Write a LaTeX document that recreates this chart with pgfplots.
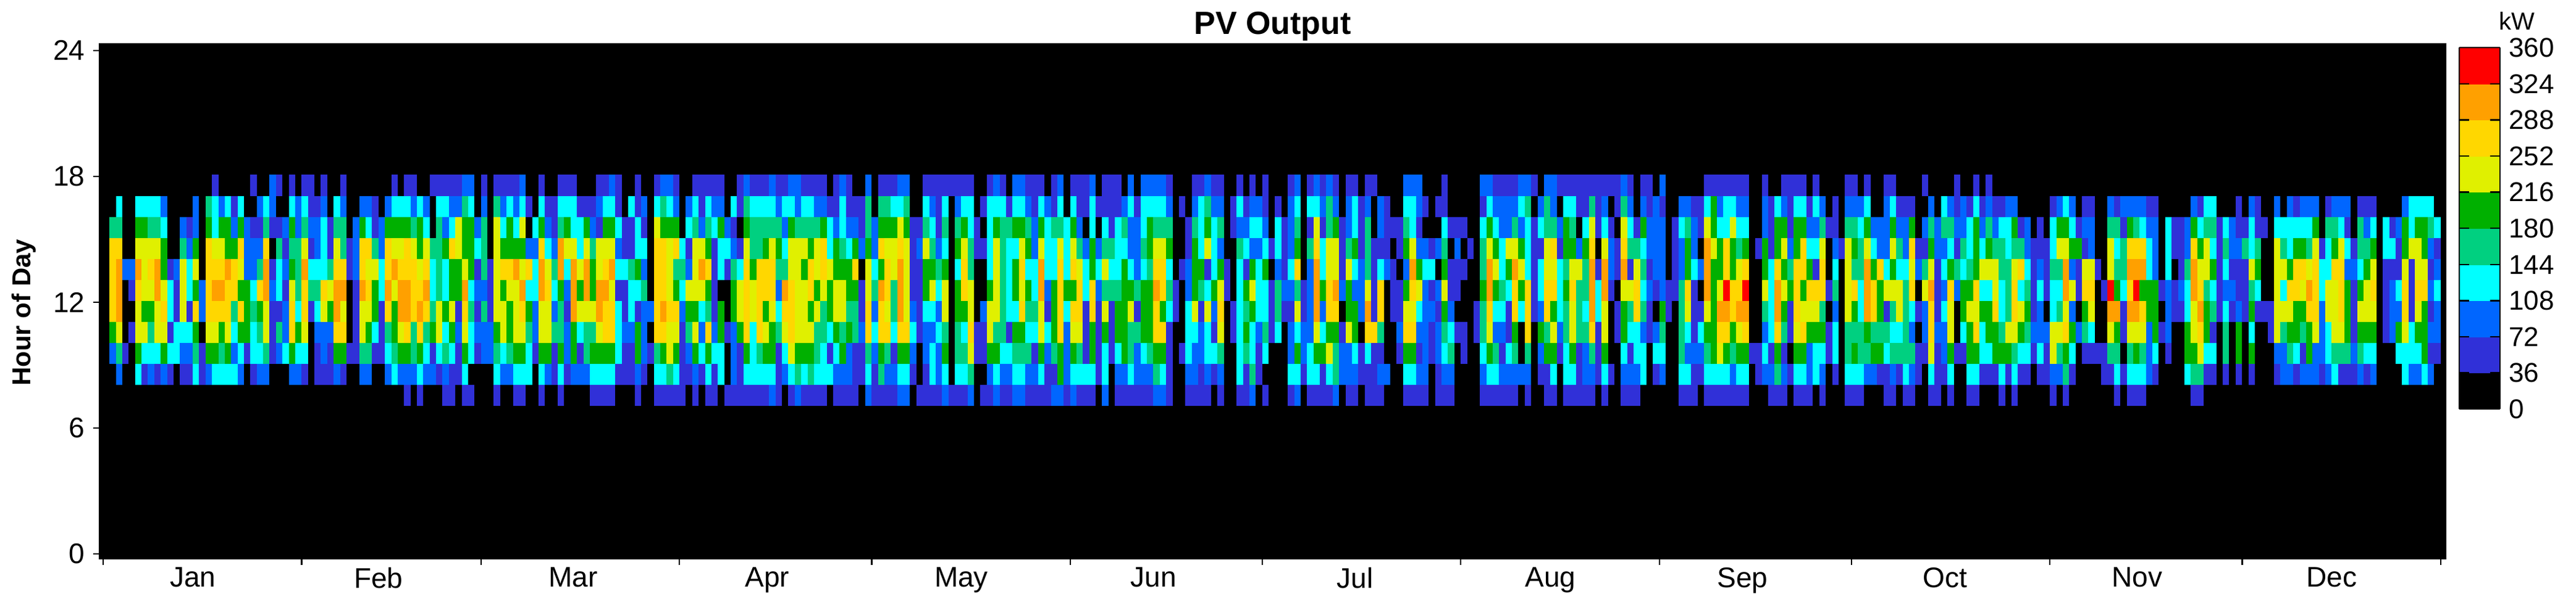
\documentclass[border=0pt]{standalone}
\usepackage{fontspec}
\setmainfont{Liberation Sans}
\usepackage{pgfplots}
\usepackage{pgfplotstable}
\pgfplotsset{compat=1.18}

% one row per day of the year, one column per hour of day
% values are colour band numbers: band n is 36*n to 36*(n+1) kW
\pgfplotstableread{
h7 h8 h9 h10 h11 h12 h13 h14 h15 h16 h17
0 0 0 0 0 0 0 0 0 0 0
0 0 2 5 7 7 7 7 4 0 0
0 2 4 6 8 8 8 7 4 3 0
0 0 1 0 0 0 2 0 0 0 0
0 0 0 1 0 1 2 0 0 0 0
0 3 5 6 6 7 8 6 5 3 0
0 1 3 6 5 6 6 6 5 3 0
0 2 3 4 5 6 7 6 4 3 0
0 1 3 6 6 8 8 6 4 3 0
0 2 5 6 7 6 5 5 3 2 0
0 1 3 1 3 3 1 0 0 0 0
0 0 3 3 1 1 2 0 0 0 0
0 1 2 3 6 6 6 4 2 0 0
0 1 2 3 1 3 3 2 1 0 0
0 3 4 5 7 5 6 5 2 2 0
0 1 1 0 2 2 0 0 0 0 0
0 2 5 6 7 7 7 7 5 4 0
0 3 5 6 7 8 7 6 3 3 1
0 3 4 5 7 8 7 6 5 2 0
0 3 5 6 7 7 8 5 5 3 0
0 3 2 3 4 7 7 5 2 1 0
0 2 3 5 7 5 6 7 5 3 0
0 0 1 5 5 5 2 2 2 0 0
0 1 3 3 4 3 2 2 1 0 1
0 2 3 4 5 7 4 2 1 2 0
0 2 4 6 6 8 8 7 4 3 0
0 0 1 1 1 2 1 0 1 2 2
0 0 2 4 1 3 3 4 1 0 1
0 0 3 2 2 1 2 1 2 0 0
0 2 5 7 7 6 5 4 5 3 1
0 2 3 5 3 4 4 4 2 2 0
0 1 3 6 7 7 8 6 4 3 1
0 0 0 0 1 4 3 1 2 1 1
0 1 1 2 3 4 3 2 2 1 0
0 1 2 2 6 7 3 3 3 2 1
0 1 1 2 5 6 4 1 1 0 0
0 2 5 7 8 8 7 6 4 3 0
0 1 5 7 6 8 7 4 4 2 1
0 0 1 0 0 0 1 1 0 0 0
0 0 1 1 1 1 2 2 2 0 0
0 2 4 6 6 8 7 7 5 2 0
0 2 4 5 6 7 6 7 3 2 0
0 0 1 3 5 5 6 4 1 1 0
0 0 1 1 1 3 3 2 2 0 0
0 2 3 4 7 8 7 7 5 2 0
0 3 4 5 5 6 8 6 5 3 1
0 2 5 6 8 8 7 6 5 3 0
1 2 5 7 8 8 7 7 5 3 1
0 2 4 4 7 7 7 6 4 2 1
1 3 5 7 8 7 6 5 5 3 0
0 2 3 4 7 8 7 6 3 2 0
0 2 1 5 4 3 3 4 0 0 1
0 1 3 6 6 4 4 4 4 3 1
1 2 4 3 5 3 3 5 2 3 1
1 1 3 5 6 5 5 7 3 2 1
0 1 1 2 1 5 5 6 6 2 1
1 3 5 6 7 8 6 5 5 4 2
1 0 3 3 4 3 5 5 5 3 2
0 0 1 2 1 2 1 3 2 0 0
0 0 2 2 4 2 4 4 4 2 1
0 0 2 2 1 1 1 0 0 0 0
1 3 4 5 6 6 6 6 6 4 1
0 2 3 6 6 5 7 5 3 2 1
0 2 4 5 5 6 7 5 5 3 1
1 3 5 6 6 6 8 5 3 2 1
1 3 5 6 7 8 6 5 6 3 2
0 3 3 4 5 3 7 2 0 1 0
0 0 1 2 2 3 3 2 3 0 0
1 3 5 6 6 8 8 7 5 3 1
0 2 5 6 6 7 6 3 2 1 0
0 1 1 4 2 3 4 2 1 1 0
1 3 5 4 4 5 8 8 4 3 1
0 1 2 2 1 2 3 6 5 3 1
0 2 5 5 8 8 8 6 3 3 1
0 2 1 3 6 5 6 3 3 1 0
0 2 4 4 6 8 8 6 5 1 0
1 3 5 4 6 5 5 4 2 1 0
1 3 5 6 8 8 6 6 1 2 1
1 3 5 7 7 8 7 6 5 3 1
1 3 5 7 7 6 8 6 5 3 2
0 1 3 3 3 1 3 2 3 1 1
0 1 1 2 1 1 3 1 1 0 0
0 1 1 2 3 3 4 1 1 3 0
1 2 5 5 1 3 5 3 3 1 1
0 1 2 2 2 4 2 3 1 2 0
0 0 1 0 2 0 0 0 0 0 0
1 3 4 7 7 7 7 7 6 3 1
1 3 5 7 8 7 7 7 5 4 2
1 4 6 6 7 6 6 6 5 3 2
1 3 5 6 7 5 4 7 5 2 1
1 1 1 1 2 3 4 3 0 0 0
0 1 2 4 5 6 2 1 3 2 0
1 2 5 6 5 6 6 6 4 3 1
0 1 3 2 3 6 8 6 2 1 1
1 3 5 7 4 5 7 5 4 3 1
1 1 3 2 1 1 1 1 3 2 1
0 3 3 5 5 0 3 3 5 2 1
1 0 0 1 0 0 1 3 2 0 0
1 2 2 2 5 5 4 2 1 3 0
1 1 1 5 6 6 3 1 0 1 1
1 3 5 7 7 7 7 6 5 4 2
1 3 3 3 6 6 5 4 4 3 1
1 3 4 7 7 7 7 4 4 3 1
1 3 5 6 5 7 7 5 4 3 1
2 3 5 5 6 7 7 6 4 3 2
1 1 1 4 3 2 4 5 4 2 1
0 2 3 6 7 8 4 3 2 3 1
1 3 6 7 7 7 6 6 5 3 2
2 4 5 6 6 6 6 6 4 2 2
1 3 5 6 6 6 5 6 4 3 1
1 4 5 6 5 7 7 5 4 3 1
1 3 4 4 6 5 6 6 4 2 1
1 3 3 4 4 6 7 7 5 2 1
0 3 1 3 5 5 6 3 3 1 0
1 2 3 5 6 6 5 5 2 1 1
1 2 5 4 6 6 5 4 3 3 2
1 2 2 5 4 5 5 3 2 1 1
1 1 1 4 4 5 7 5 2 1 0
0 1 1 2 1 1 0 2 1 1 0
2 3 4 7 7 6 6 5 4 4 2
1 1 2 3 2 4 3 2 2 0 0
1 4 5 7 7 8 5 7 5 4 1
1 2 4 7 6 7 7 6 5 4 1
1 2 1 3 4 4 6 6 5 3 1
2 3 5 7 8 8 8 7 6 3 2
2 3 5 7 6 6 6 6 5 4 2
0 1 2 3 2 1 1 1 1 0 0
1 0 0 1 1 1 1 2 1 0 0
1 1 2 2 3 5 5 6 4 3 1
1 3 3 2 3 6 5 4 3 2 1
1 2 2 3 2 3 4 2 1 1 1
2 3 5 4 6 6 5 3 4 3 1
1 0 0 0 0 0 0 0 0 0 1
1 3 4 4 5 5 3 5 4 2 1
1 3 4 3 5 7 7 6 5 3 1
2 4 6 7 6 6 4 4 3 3 1
0 0 1 1 0 0 0 1 1 0 0
1 0 1 1 2 0 0 1 0 1 0
1 2 5 6 6 5 3 3 3 3 1
2 3 5 4 6 6 6 6 5 3 2
1 2 3 4 4 4 4 4 4 3 1
1 2 3 1 3 3 3 3 4 1 0
2 3 4 5 3 5 5 3 5 3 2
2 3 4 5 7 6 7 6 5 3 2
1 2 4 3 4 5 3 5 4 2 1
1 2 1 3 4 3 3 2 2 1 1
1 3 5 6 6 8 8 6 5 3 1
1 1 2 3 1 2 3 3 3 2 0
2 1 4 5 5 5 3 3 4 1 1
2 5 5 7 7 7 7 6 4 3 2
1 2 2 2 3 5 3 3 3 0 0
2 3 5 6 7 5 7 6 5 3 1
1 3 4 6 7 7 6 4 2 1 1
1 3 1 1 1 3 3 2 0 1 1
1 3 5 5 7 7 5 5 3 3 2
0 1 1 1 1 2 3 2 0 1 0
2 3 3 5 6 4 6 4 3 1 1
0 0 1 1 1 4 3 4 1 1 1
1 2 3 5 5 4 3 3 3 1 1
1 2 5 5 5 5 5 3 4 2 0
1 3 4 4 6 5 3 2 2 3 2
1 2 2 4 1 4 2 2 2 1 0
1 2 3 5 5 5 3 4 3 3 2
1 2 4 5 5 5 4 5 5 3 2
2 4 5 7 7 8 7 6 4 3 2
2 3 5 7 5 7 7 6 4 3 2
1 1 1 1 3 4 3 5 4 2 1
0 0 0 0 1 1 0 0 0 0 0
0 0 1 0 0 0 1 0 0 1 0
1 2 3 3 3 2 2 1 1 0 0
1 2 2 3 6 5 5 5 4 2 1
1 1 2 2 1 4 5 3 3 3 1
1 2 3 3 6 3 1 6 5 4 2
0 1 3 1 2 5 3 3 3 2 1
1 2 4 6 7 6 5 2 4 2 1
0 0 0 0 0 1 1 0 0 0 0
0 0 0 1 1 0 0 0 1 1 0
1 3 3 3 3 3 3 4 2 3 1
1 1 4 5 4 5 1 3 2 1 0
2 4 3 3 5 6 5 2 3 2 1
0 1 1 2 3 3 3 2 3 2 0
1 0 3 4 3 3 5 3 2 1 1
0 0 0 1 1 1 0 1 0 0 0
0 0 0 3 4 4 2 3 3 1 0
0 0 0 0 1 2 1 1 1 0 0
1 3 2 2 1 2 3 2 2 2 1
2 3 5 3 6 4 7 5 4 3 2
0 1 2 2 1 1 0 0 0 0 0
1 3 3 2 2 2 2 4 1 3 1
1 3 5 6 8 8 8 7 6 3 2
1 1 5 3 2 5 3 3 1 2 1
1 3 6 5 7 7 6 6 4 4 2
2 4 4 5 7 8 6 6 5 2 1
0 2 2 1 0 2 1 1 1 0 0
1 2 2 6 5 5 6 4 2 2 1
1 2 3 5 5 2 3 5 3 3 1
0 1 1 0 2 2 2 1 1 1 0
1 1 3 7 8 6 4 4 4 2 1
1 1 1 7 1 1 1 1 0 0 1
1 2 1 4 7 7 3 1 2 2 0
0 2 0 0 0 0 2 1 1 1 0
0 0 0 0 1 1 1 0 1 0 0
0 0 1 2 1 1 0 1 1 0 0
1 3 5 7 6 5 2 5 4 3 2
1 3 5 7 6 7 8 6 3 3 2
1 2 1 2 3 6 5 2 1 2 2
1 2 2 2 2 2 3 2 0 1 0
0 0 1 1 2 1 3 1 0 0 0
1 1 2 2 1 2 0 2 0 1 0
1 2 3 4 5 6 5 4 3 1 1
1 2 4 3 2 1 1 0 1 0 0
0 0 0 1 0 1 1 2 1 0 0
0 0 1 1 0 0 1 0 1 0 0
0 0 0 0 0 0 0 1 0 0 0
0 0 0 1 1 0 0 0 0 0 0
1 2 3 4 4 5 4 4 3 1 2
1 3 5 6 7 8 8 6 5 3 2
1 3 4 2 3 5 6 5 3 2 1
1 2 1 2 3 4 3 3 2 2 1
1 2 3 1 1 3 5 6 2 2 1
1 2 4 5 7 7 8 6 4 2 1
0 2 0 0 3 5 6 5 2 3 2
1 2 4 7 7 7 3 3 3 4 2
0 0 0 0 1 1 1 1 1 0 1
0 1 2 5 2 3 3 1 3 2 0
1 1 5 4 7 7 6 6 4 4 2
1 3 5 6 5 7 6 7 4 2 2
0 0 1 2 3 3 3 1 2 0 1
1 3 3 4 4 5 4 5 5 3 1
1 3 5 6 6 7 6 5 4 3 1
1 1 1 4 4 4 6 2 0 1 1
1 2 2 4 3 4 4 5 3 1 1
1 2 4 7 8 8 8 7 6 4 1
0 1 1 1 3 3 1 0 1 1 1
1 3 5 6 6 8 8 6 3 2 1
0 1 0 0 0 1 2 2 1 0 1
0 0 0 1 1 0 1 1 0 1 1
1 2 3 5 5 6 8 7 6 4 2
1 2 1 3 4 6 1 4 3 2 1
1 2 3 3 7 7 6 4 1 0 0
0 3 3 2 4 3 4 3 5 2 1
0 0 0 1 1 2 1 2 2 1 1
0 1 3 2 0 1 2 2 2 2 0
0 2 3 4 5 2 2 2 2 1 2
0 0 0 0 1 1 0 0 0 0 0
0 0 0 0 0 1 1 1 1 0 0
1 3 4 4 4 4 2 2 3 2 0
1 3 2 3 6 7 5 5 4 2 0
1 1 2 1 1 1 3 2 2 1 0
0 1 2 3 1 0 2 0 1 1 0
1 3 4 5 6 8 8 8 6 3 1
1 3 5 5 5 5 5 6 5 5 1
1 3 6 7 8 6 5 5 3 2 1
1 3 5 7 8 9 7 7 3 3 1
1 2 4 5 7 7 5 5 6 3 1
1 3 5 6 8 7 6 4 3 2 1
1 3 5 7 8 9 7 5 3 2 1
0 0 1 0 0 0 0 0 0 0 0
0 1 1 0 0 0 0 1 0 0 0
0 2 3 2 4 6 5 5 2 2 1
1 2 1 3 3 3 3 1 1 1 0
1 4 5 7 8 8 7 5 5 3 0
1 2 1 4 5 6 5 6 5 2 1
0 1 0 1 1 5 4 2 1 1 1
1 3 5 6 7 7 7 5 5 3 1
1 3 5 7 6 5 7 7 5 3 1
1 2 2 5 6 7 5 3 2 1 0
0 3 3 5 6 7 1 3 2 3 1
1 2 3 5 4 7 7 6 4 2 0
0 0 1 1 0 1 0 0 1 0 0
0 1 3 3 2 4 3 2 1 1 0
0 0 0 0 0 0 0 1 0 0 0
1 3 4 4 6 6 6 6 4 2 1
1 3 5 4 5 7 4 5 4 2 1
1 3 4 4 3 3 4 4 3 2 0
0 2 4 5 8 8 8 6 5 3 1
0 2 5 4 7 7 5 3 2 0 0
0 1 5 4 5 5 7 2 2 0 0
1 1 3 4 1 6 3 2 2 2 1
1 2 4 3 4 6 5 6 5 3 1
0 1 4 3 6 6 3 4 2 1 0
1 3 4 4 4 4 3 2 2 1 0
1 2 4 2 3 7 6 7 5 1 0
0 1 1 0 1 0 2 1 0 0 0
0 0 1 2 2 6 4 1 2 0 1
1 3 6 7 7 8 6 5 4 2 0
1 1 1 2 1 1 1 2 2 0 0
0 1 2 2 3 2 3 2 4 3 0
1 3 5 6 6 7 5 3 4 2 0
0 0 1 0 0 2 4 1 2 1 1
0 0 1 3 5 5 3 4 2 2 0
1 3 5 5 6 5 4 3 3 1 0
1 3 5 7 6 7 5 5 5 3 1
0 1 3 3 5 3 6 3 2 1 0
0 1 3 5 5 3 6 5 4 2 1
0 1 5 5 7 6 6 4 2 1 0
1 3 5 4 3 3 4 4 3 1 0
0 1 5 6 4 4 4 3 3 2 0
1 3 4 6 7 7 6 4 5 2 0
0 1 3 5 6 3 7 4 1 0 0
0 1 3 4 5 4 3 2 2 0 0
0 0 1 2 1 1 1 1 0 0 0
0 1 3 2 2 3 2 1 1 0 0
0 1 1 2 0 1 1 1 0 0 0
1 2 6 6 3 3 4 3 3 1 0
0 2 4 6 4 3 4 6 5 2 0
1 4 5 7 6 8 8 6 5 3 0
0 1 3 5 2 6 2 5 3 2 0
0 0 0 2 0 1 1 5 1 0 0
0 0 1 4 5 7 6 1 2 1 0
0 0 1 3 6 7 6 2 2 1 0
0 0 1 0 0 0 1 0 0 0 0
0 1 1 0 0 1 0 0 0 0 0
0 1 4 6 8 9 6 6 4 2 0
1 3 4 5 8 5 4 3 4 1 0
0 1 0 1 1 3 4 4 1 2 0
1 3 4 6 8 7 8 7 5 2 0
1 3 5 6 8 9 8 7 4 2 0
1 3 4 6 7 5 8 7 3 2 0
0 2 2 2 5 5 3 3 2 1 0
0 1 3 5 5 5 2 2 2 1 0
0 0 0 1 0 1 0 0 0 0 0
0 0 1 2 2 2 3 3 3 0 0
0 0 0 0 1 1 0 1 1 0 0
0 0 0 0 1 2 1 1 1 0 0
0 3 5 5 3 3 4 2 2 0 0
1 4 5 6 6 8 8 7 5 2 0
1 4 6 7 8 7 6 5 3 1 0
0 1 3 5 5 4 6 6 4 3 0
0 1 3 1 4 3 5 3 4 3 0
0 0 0 0 1 1 1 1 1 0 0
0 1 4 4 3 2 3 4 3 0 0
0 0 0 0 1 2 1 2 2 0 0
0 1 5 5 2 1 1 2 1 1 0
0 0 0 0 1 1 1 4 1 0 0
0 1 5 3 5 4 6 3 3 2 0
0 0 0 0 1 3 5 4 1 1 0
0 0 0 0 1 0 0 0 1 0 0
0 0 0 1 1 0 0 0 0 0 0
0 1 2 6 6 6 6 6 3 2 0
0 2 2 4 6 3 6 4 3 0 0
0 2 4 5 6 7 5 3 3 2 0
0 1 3 5 5 7 7 5 3 1 0
0 2 1 4 5 6 7 5 3 2 0
0 2 5 5 7 8 6 4 3 2 0
0 2 2 6 7 7 7 6 5 2 0
0 1 2 2 2 3 3 1 0 0 0
0 2 3 3 6 6 3 3 4 1 0
0 3 4 6 6 6 7 5 4 2 0
0 1 4 6 7 7 7 6 3 2 0
0 1 4 5 5 5 2 3 1 2 0
0 1 2 1 1 1 2 1 0 0 0
0 2 4 5 6 5 3 4 4 1 0
0 1 3 5 6 6 5 4 2 1 0
0 2 3 5 6 7 6 5 3 1 0
0 0 0 0 0 0 0 0 0 0 0
0 0 0 1 1 1 1 3 3 0 0
0 0 0 2 2 2 1 3 1 0 0
0 0 3 5 2 3 1 1 2 0 0
0 3 3 6 7 7 6 5 5 2 0
0 2 3 3 1 1 1 6 3 3 0
0 2 3 5 6 7 6 6 5 3 0
0 3 5 5 5 7 6 5 5 3 0
0 2 1 2 1 2 1 2 4 3 0
0 0 1 2 2 3 2 1 3 0 0
}\pvdata

\begin{document}
\begin{tikzpicture}
\useasboundingbox (-40.25pt,-17.25pt) rectangle (1002.5pt,226.5pt);
\begin{axis}[
  scale only axis,
  width=949.75pt,
  height=208.75pt,
  xmin=-0.58, xmax=365.8,
  ymin=-0.235, ymax=24.32,
  axis background/.style={fill=black},
  xtick={0,31,59,90,120,151,181,212,243,273,304,334,365},
  xticklabels={},
  extra x ticks={14,43,73.4,103.7,134,164,195.5,226,256,287.6,317.6,348},
  extra x tick labels={Jan,Feb,Mar,Apr,May,Jun,Jul,Aug,Sep,Oct,Nov,Dec},
  extra x tick style={major tick length=0pt, tick style={draw=none}},
  ytick={0,6,12,18,24},
  tick align=outside,
  tick pos=left,
  major tick length=2.4pt,
  tick style={black, line width=0.6pt},
  axis line style={line width=0.5pt},
  ticklabel style={font=\fontsize{11.5}{12}\selectfont},
  /pgf/number format/assume math mode=true,
  ylabel={\bfseries Hour of Day},
  ylabel style={font=\fontsize{10.5}{12}\selectfont, at={(ticklabel cs:0.478)}},
  title={\bfseries PV Output},
  title style={font=\fontsize{13}{14}\selectfont, yshift=-8.3pt},
  point meta=explicit,
  point meta min=0, point meta max=360,
  colormap={pv}{
    rgb255=(0,0,0) rgb255=(48,48,216) rgb255=(0,102,255) rgb255=(0,255,255)
    rgb255=(0,208,128) rgb255=(0,176,0) rgb255=(224,240,0) rgb255=(255,215,0)
    rgb255=(255,160,0) rgb255=(255,0,0)},
  colormap access=piecewise constant,
  colorbar sampled,
  colorbar style={
    samples=11,
    shader=faceted,
    faceted color=black,
    width=16.5pt,
    height=146.5pt,
    anchor=north west,
    at={(1.0058,0.9925)},
    ytick={0,36,...,360},
    major tick length=4pt,
    title={kW},
    title style={font=\fontsize{10}{11}\selectfont, xshift=15pt, yshift=-2.4pt},
    /pgf/number format/assume math mode=true,
    yticklabel style={font=\fontsize{11}{12}\selectfont},
  },
]
\pgfplotsinvokeforeach{7,...,17}{
  \addplot[scatter, only marks, mark=|, mark size=4.3pt,
    mark options={line width=2.65pt},
    scatter/use mapped color={draw=mapped color, fill=mapped color}]
    table[x expr=\coordindex+0.5, y expr=#1+0.57,
          meta expr=36*(\thisrow{h#1}+0.5)] {\pvdata};
}
\end{axis}
\end{tikzpicture}
\end{document}
